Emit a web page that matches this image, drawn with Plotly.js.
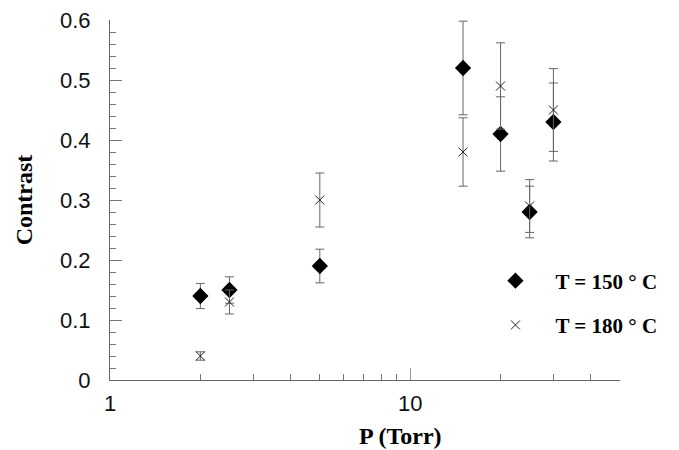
<!DOCTYPE html>
<html><head><meta charset="utf-8">
<script src="https://cdn.plot.ly/plotly-3.0.1.min.js"></script>
<style>html,body{margin:0;padding:0;background:#fff}</style>
</head><body>
<div id="chart" style="width:679px;height:450px"></div>
<script>
const pressure = [2, 2.5, 5, 15, 20, 25, 30];
const contrast150 = [0.14, 0.15, 0.19, 0.52, 0.41, 0.28, 0.43];
const err150 = [0.021, 0.022, 0.028, 0.078, 0.062, 0.043, 0.065];
const contrast180 = [0.04, 0.13, 0.30, 0.38, 0.49, 0.29, 0.45];
const err180 = [0.007, 0.02, 0.045, 0.057, 0.072, 0.044, 0.069];
const yTickVals = [0, 0.1, 0.2, 0.3, 0.4, 0.5, 0.6];
const yTickText = ['0', '0.1', '0.2', '0.3', '0.4', '0.5', '0.6'];
const xTickVals = [1, 10];
const xTickText = ['1', '10'];
const xMinorVals = [2, 3, 4, 5, 6, 7, 8, 9, 20, 30, 40];

const errStyle = {type: 'data', visible: true, color: '#666', thickness: 1, width: 4.5};
const traces = [
  {x: pressure, y: contrast150, type: 'scatter', mode: 'markers', name: 'T = 150 ° C',
   legendgroup: 'a',
   marker: {symbol: 'diamond', size: 12.5, color: '#000'},
   error_y: Object.assign({array: err150}, errStyle)},
  {x: pressure, y: contrast180, type: 'scatter', mode: 'markers', name: 'T = 180 ° C',
   legendgroup: 'b',
   marker: {symbol: 'x-thin-open', size: 9, color: '#222', line: {width: 1, color: '#222'}},
   error_y: Object.assign({array: err180}, errStyle)}
];

const layout = {
  width: 679, height: 450,
  margin: {l: 110, r: 59, t: 20, b: 70},
  paper_bgcolor: '#fff', plot_bgcolor: '#fff',
  showlegend: true,
  legend: {x: 0.7165, y: 0.332, xanchor: 'left', yanchor: 'top', bgcolor: 'rgba(0,0,0,0)',
           font: {family: 'Liberation Serif', size: 21, color: '#000', weight: 'bold'},
           tracegroupgap: 14, traceorder: 'grouped', itemwidth: 70},
  xaxis: {type: 'log', range: [0, Math.log10(50)], showgrid: false, zeroline: false,
          showline: true, linecolor: '#666', linewidth: 1,
          tickmode: 'array', tickvals: xTickVals, ticktext: xTickText,
          ticks: 'inside', ticklen: 12, tickcolor: '#999', tickwidth: 1,
          ticklabelstandoff: 4,
          tickfont: {family: 'Liberation Sans', size: 22, color: '#111'},
          minor: {tickmode: 'array', tickvals: xMinorVals, ticks: 'inside', ticklen: 6, tickcolor: '#777', tickwidth: 1, showgrid: false}},
  yaxis: {range: [0, 0.6], showgrid: false, zeroline: false,
          showline: true, linecolor: '#666', linewidth: 1,
          tickmode: 'array', tickvals: yTickVals, ticktext: yTickText,
          ticks: 'inside', ticklen: 12, tickcolor: '#777', tickwidth: 1,
          ticklabelstandoff: 14,
          tickfont: {family: 'Liberation Sans', size: 22, color: '#111'},
          minor: {dtick: 0.02, ticks: 'inside', ticklen: 6, tickcolor: '#777', tickwidth: 1, showgrid: false}},
  annotations: [
    {text: '<b>Contrast</b>', xref: 'paper', yref: 'paper', x: -0.168, y: 0.5,
     xanchor: 'center', yanchor: 'middle', textangle: -90, showarrow: false,
     font: {family: 'Liberation Serif', size: 24, color: '#000'}},
    {text: '<b>P\u2009(Torr)</b>', xref: 'paper', yref: 'paper', x: 0.57, y: -0.156,
     xanchor: 'center', yanchor: 'middle', showarrow: false,
     font: {family: 'Liberation Serif', size: 24, color: '#000'}}
  ]
};
Plotly.newPlot('chart', traces, layout, {displayModeBar: false, staticPlot: true});
</script>
</body></html>
